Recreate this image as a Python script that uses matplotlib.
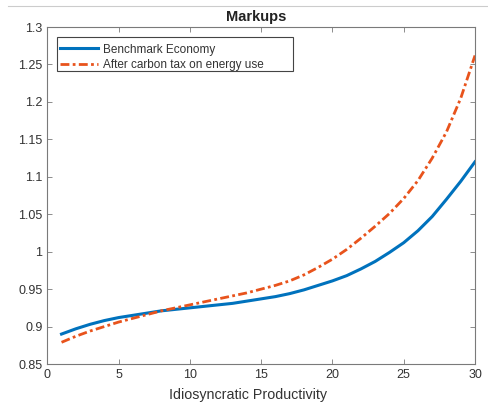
import numpy as np
import matplotlib.pyplot as plt
from matplotlib.lines import Line2D
from matplotlib.patches import Rectangle

plt.rcParams['font.family'] = ['Liberation Sans', 'DejaVu Sans']

# Productividad idiosincratica (1..30) y markups
x = list(range(1, 31))
benchmark = [0.890, 0.897, 0.903, 0.908, 0.912, 0.915, 0.918, 0.921, 0.923, 0.925,
             0.927, 0.929, 0.931, 0.934, 0.937, 0.940, 0.944, 0.949, 0.955, 0.961,
             0.968, 0.977, 0.987, 0.999, 1.012, 1.028, 1.047, 1.070, 1.094, 1.120]
carbon_tax = [0.879, 0.887, 0.894, 0.900, 0.906, 0.911, 0.916, 0.921, 0.925, 0.929,
              0.933, 0.937, 0.941, 0.945, 0.950, 0.955, 0.961, 0.969, 0.979, 0.990,
              1.003, 1.018, 1.034, 1.051, 1.071, 1.095, 1.125, 1.160, 1.205, 1.262]
xticks = [0, 5, 10, 15, 20, 25, 30]
yticks = [0.85, 0.9, 0.95, 1, 1.05, 1.1, 1.15, 1.2, 1.25, 1.3]
ytick_labels = ["0.85", "0.9", "0.95", "1", "1.05", "1.1", "1.15", "1.2", "1.25", "1.3"]

fig = plt.figure(figsize=(4.89, 4.05), dpi=100)
ax = fig.add_axes([0.0967, 0.1012, 0.8747, 0.8321])

ax.plot(x, benchmark, color="#0072BD", lw=2.2, label="Benchmark Economy")
ax.plot(x, carbon_tax, color="#E8531C", lw=2.0, ls=(0, (3.2, 1.2, 1.0, 1.2)),
        label="After carbon tax on energy use")

ax.set_xlim(0, 30)
ax.set_ylim(0.85, 1.3)
ax.set_xticks(xticks)
ax.set_yticks(yticks)
ax.set_yticklabels(ytick_labels)
ax.tick_params(direction="in", length=3.5, width=0.6, colors="#7a7a7a",
               labelcolor="#333333", labelsize=9, top=True, right=True)
for s in ax.spines.values():
    s.set_color("#7a7a7a")
    s.set_linewidth(0.8)

ax.set_xlabel("Idiosyncratic Productivity", fontsize=10.3, color="#333333", labelpad=5)
ax.xaxis.label.set_x(0.47)
ax.set_title("Markups", fontsize=10.5, fontweight="bold", color="#222222", pad=4, x=0.488)

# leyenda sin marco; el marco estilo MATLAB se dibuja aparte (mas ancho a la derecha)
leg = ax.legend(loc="upper left", bbox_to_anchor=(0.012, 0.972), fontsize=8.5,
                frameon=False, borderpad=0.4, labelspacing=0.3,
                handlelength=3.3, handletextpad=0.35, borderaxespad=0.2)
for t in leg.get_texts():
    t.set_color("#333333")
ax.add_patch(Rectangle((0.0227, 0.870), 0.552, 0.100, transform=ax.transAxes,
                       fill=True, facecolor="white", edgecolor="#444444",
                       lw=0.8, zorder=4))
leg.set_zorder(5)

# linea gris separadora arriba
fig.add_artist(Line2D([8 / 489, 1.0], [1 - 6 / 405, 1 - 6 / 405],
                      transform=fig.transFigure, color="#cccccc", lw=0.8))

fig.savefig("out.png", dpi=100)
